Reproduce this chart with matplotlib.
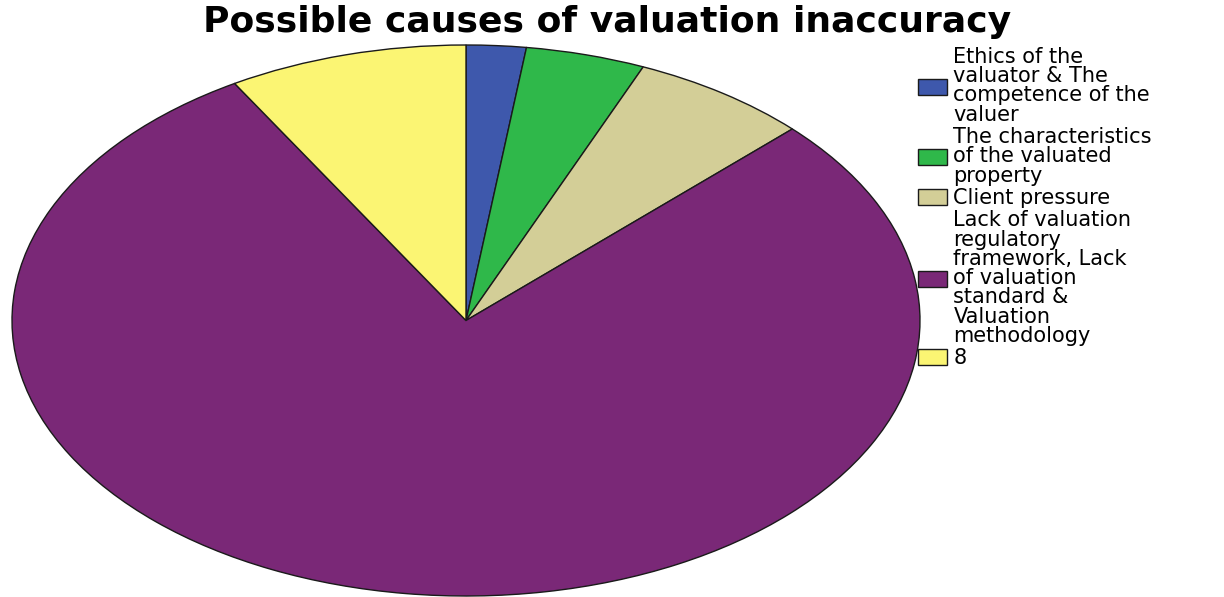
import matplotlib
matplotlib.use("Agg")
import matplotlib.pyplot as plt

categories = [
    "Ethics of the\nvaluator & The\ncompetence of the\nvaluer",
    "The characteristics\nof the valuated\nproperty",
    "Client pressure",
    "Lack of valuation\nregulatory\nframework, Lack\nof valuation\nstandard &\nValuation\nmethodology",
    "8",
]
counts = [1, 2, 3, 37, 4]
colors = ["#3E58AC", "#2FB84A", "#D3CE97", "#7A2877", "#FBF573"]
title = "Possible causes of valuation inaccuracy"

fig = plt.figure(figsize=(12.24, 5.97), dpi=100)
W, H = 1224, 597
ax = fig.add_axes([12 / W, (597 - 596) / H, 908 / W, 551 / H])
wedges, _ = ax.pie(counts, colors=colors, startangle=90, counterclock=False,
                   wedgeprops=dict(edgecolor="#1a1a1a", linewidth=1.0))
ax.set_aspect("auto")
ax.set_xlim(-1.0, 1.0)
ax.set_ylim(-1.0, 1.0)
ax.axis("off")

fig.text(607 / W, 1 - 22 / H, title, ha="center", va="center",
         fontsize=26, fontweight="bold", family="DejaVu Sans")

leg = fig.legend(wedges, categories, loc="upper left",
                 bbox_to_anchor=(918 / W, 1 - 47 / H),
                 frameon=False, fontsize=15, labelspacing=0.12,
                 handlelength=1.4, handleheight=0.8, handletextpad=0.3,
                 borderpad=0, borderaxespad=0)
for t in leg.get_texts():
    t.set_linespacing(0.95)

fig.savefig("out.png", dpi=100)
